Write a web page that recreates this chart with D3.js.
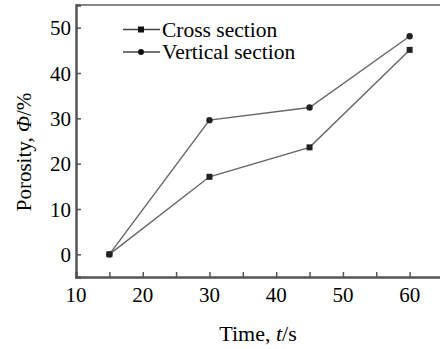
<!DOCTYPE html>
<html lang="en">
<head>
<meta charset="UTF-8">
<script src="https://cdnjs.cloudflare.com/ajax/libs/d3/7.8.5/d3.min.js"></script>
<style>
  html, body { margin: 0; padding: 0; background: #fff; }
  svg { display: block; }
</style>
</head>
<body>
<script>
// data
var times = [15, 30, 45, 60];
var crossSection = [0, 17.1, 23.6, 45.1];
var verticalSection = [0, 29.6, 32.4, 48.1];
var xTicks = [10, 20, 30, 40, 50, 60];
var xMinorTicks = [15, 20, 25, 30, 35, 40, 45, 50, 55, 60];
var yTicks = [0, 10, 20, 30, 40, 50];
var seriesNames = ["Cross section", "Vertical section"];

var width = 440, height = 349;
var margin = {top: 5, right: -3, bottom: 72, left: 76};
var fontName = "Liberation Serif";

var svg = d3.select("body").append("svg")
  .attr("width", width)
  .attr("height", height);

var x = d3.scaleLinear().domain([10, 65]).range([margin.left, width - margin.right]);
var y = d3.scaleLinear().domain([-5, 55]).range([height - margin.bottom, margin.top]);

var axisColor = "#555";

// top frame line
svg.append("line")
  .attr("x1", x(10)).attr("x2", x(65))
  .attr("y1", y(55)).attr("y2", y(55))
  .attr("stroke", "#888").attr("stroke-width", 2);

// x axis, ticks inward
var xAxis = svg.append("g")
  .attr("transform", "translate(0," + y(-5) + ")")
  .call(d3.axisBottom(x).tickValues(xMinorTicks).tickSize(-5).tickFormat(""));
xAxis.select(".domain").attr("stroke", axisColor).attr("stroke-width", 2.5);
xAxis.selectAll(".tick line").attr("stroke", axisColor).attr("stroke-width", 1.5);

svg.append("g").selectAll("text")
  .data(xTicks)
  .enter().append("text")
  .attr("x", d => x(d))
  .attr("y", y(-5) + 25)
  .attr("text-anchor", "middle")
  .attr("font-family", fontName)
  .style("font-size", "21px")
  .text(d => d);

// y axis, ticks inward
var yAxis = svg.append("g")
  .attr("transform", "translate(" + x(10) + ",0)")
  .call(d3.axisLeft(y).tickValues(yTicks).tickSize(-5).tickFormat(""));
yAxis.select(".domain").attr("stroke", axisColor).attr("stroke-width", 2.5);
yAxis.selectAll(".tick line").attr("stroke", axisColor).attr("stroke-width", 1.5);

svg.append("g").selectAll("text")
  .data(yTicks)
  .enter().append("text")
  .attr("x", x(10) - 5)
  .attr("y", d => y(d) + 7.5)
  .attr("text-anchor", "end")
  .attr("font-family", fontName)
  .style("font-size", "21px")
  .text(d => d);

// axis titles
var yt = svg.append("text")
  .attr("transform", "translate(31,152) rotate(-90)")
  .attr("text-anchor", "middle")
  .attr("font-family", fontName)
  .style("font-size", "21px");
yt.append("tspan").text("Porosity,  ");
yt.append("tspan").style("font-style", "italic").text("Φ");
yt.append("tspan").text("/%");

var xt = svg.append("text")
  .attr("x", 258)
  .attr("y", 341)
  .attr("text-anchor", "middle")
  .attr("font-family", fontName)
  .style("font-size", "22px");
xt.append("tspan").text("Time, ");
xt.append("tspan").style("font-style", "italic").text("t");
xt.append("tspan").text("/s");

// lines
var line = d3.line()
  .x((d, i) => x(times[i]))
  .y(d => y(d));

var lineColor = "#666";
[crossSection, verticalSection].forEach(function(s) {
  svg.append("path")
    .datum(s)
    .attr("d", line)
    .attr("fill", "none")
    .attr("stroke", lineColor)
    .attr("stroke-width", 1.4);
});

// markers
svg.append("g").selectAll("rect")
  .data(crossSection)
  .enter().append("rect")
  .attr("x", (d, i) => x(times[i]) - 3)
  .attr("y", d => y(d) - 3)
  .attr("width", 6).attr("height", 6)
  .attr("fill", "#222");

svg.append("g").selectAll("circle")
  .data(verticalSection)
  .enter().append("circle")
  .attr("cx", (d, i) => x(times[i]))
  .attr("cy", d => y(d))
  .attr("r", 3.2)
  .attr("fill", "#222");

// legend
var legend = svg.append("g");
seriesNames.forEach(function(name, i) {
  var ly = 29.5 + i * 22.5;
  legend.append("line")
    .attr("x1", 123).attr("x2", 160)
    .attr("y1", ly).attr("y2", ly)
    .attr("stroke", "#444").attr("stroke-width", 1.6);
  if (i == 0) {
    legend.append("rect")
      .attr("x", 138).attr("y", ly - 3)
      .attr("width", 6).attr("height", 6)
      .attr("fill", "#111");
  } else {
    legend.append("circle")
      .attr("cx", 141).attr("cy", ly).attr("r", 3)
      .attr("fill", "#111");
  }
  legend.append("text")
    .attr("x", 162)
    .attr("y", ly + 7)
    .attr("font-family", fontName)
    .style("font-size", "21.5px")
    .text(name);
});
</script>
</body>
</html>
